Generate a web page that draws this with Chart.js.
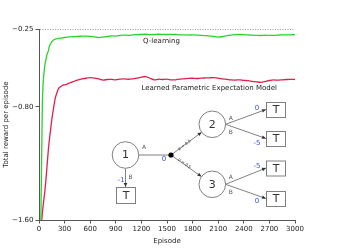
<!DOCTYPE html>
<html>
<head>
<meta charset="utf-8">
<script src="https://cdn.jsdelivr.net/npm/chart.js@4/dist/chart.umd.min.js"></script>
<style>
html,body{margin:0;padding:0;background:#fff;}
#wrap{width:351px;height:248px;}
</style>
</head>
<body>
<div id="wrap"><canvas id="c" width="351" height="248"></canvas></div>
<script>
// ---- data ----
const qEpisodes = [20,30,40,50,60,70,80,90,100,110,120,130,140,150,170,200,250,300,350,400,450,500,550,600,650,700,750,800,850,900,950,1000,1050,1100,1150,1200,1250,1300,1350,1400,1450,1500,1550,1600,1650,1700,1750,1800,1850,1900,1950,2000,2050,2100,2150,2200,2250,2300,2350,2400,2450,2500,2550,2600,2650,2700,2750,2800,2850,2900,2950,3000];
const qValues = [-1.70,-1.20,-0.76,-0.62,-0.55,-0.50,-0.47,-0.44,-0.42,-0.405,-0.375,-0.36,-0.35,-0.34,-0.328,-0.32,-0.315,-0.31,-0.306,-0.304,-0.302,-0.301,-0.300,-0.302,-0.305,-0.311,-0.307,-0.303,-0.298,-0.300,-0.296,-0.293,-0.295,-0.291,-0.290,-0.288,-0.287,-0.290,-0.289,-0.287,-0.288,-0.289,-0.288,-0.289,-0.292,-0.291,-0.293,-0.292,-0.293,-0.295,-0.297,-0.300,-0.303,-0.307,-0.303,-0.297,-0.293,-0.290,-0.288,-0.290,-0.292,-0.294,-0.295,-0.296,-0.294,-0.295,-0.295,-0.293,-0.291,-0.292,-0.291,-0.290];
const lpemEpisodes = [20,32,50,70,90,110,130,150,170,190,210,230,260,290,330,370,400,450,500,550,600,650,700,750,800,850,900,950,1000,1050,1100,1150,1200,1250,1300,1350,1400,1450,1500,1550,1600,1650,1700,1750,1800,1850,1900,1950,2000,2050,2100,2150,2200,2250,2300,2350,2400,2450,2500,2550,2600,2650,2700,2750,2800,2850,2900,2950,3000];
const lpemValues = [-1.70,-1.60,-1.49,-1.39,-1.25,-1.10,-0.99,-0.89,-0.81,-0.74,-0.70,-0.67,-0.655,-0.645,-0.640,-0.628,-0.622,-0.612,-0.603,-0.598,-0.594,-0.597,-0.603,-0.611,-0.607,-0.606,-0.609,-0.604,-0.603,-0.605,-0.602,-0.598,-0.590,-0.586,-0.598,-0.610,-0.605,-0.607,-0.604,-0.610,-0.609,-0.604,-0.602,-0.599,-0.598,-0.600,-0.597,-0.596,-0.595,-0.594,-0.597,-0.603,-0.606,-0.610,-0.611,-0.609,-0.613,-0.615,-0.620,-0.624,-0.627,-0.621,-0.614,-0.610,-0.612,-0.609,-0.607,-0.606,-0.607];
const yTickValues = [-1.60, -0.80, -0.25];
const xTickValues = [0,300,600,900,1200,1500,1800,2100,2400,2700,3000];
const seriesNames = ['Q-learning', 'Learned Parametric Expectation Model'];
const labelAnchors = [[1220, -0.335], [1200, -0.667]];

const FONT = "'DejaVu Sans'";
Chart.defaults.font.family = FONT;
Chart.defaults.font.size = 7;
Chart.defaults.color = '#222';

function fmtY(v){ return (v<0?'\u2212':'') + Math.abs(v).toFixed(2); }

const diagram = {
  id: 'diagram',
  afterDatasetsDraw(chart){
    const ctx = chart.ctx;
    const xs = chart.scales.x, ys = chart.scales.y;
    ctx.save();
    // series labels
    ctx.fillStyle = '#222';
    ctx.font = '7px ' + FONT;
    ctx.textBaseline = 'middle';
    ctx.textAlign = 'left';
    seriesNames.forEach((n,i)=>{
      ctx.fillText(n, xs.getPixelForValue(labelAnchors[i][0]), ys.getPixelForValue(labelAnchors[i][1]));
    });

    const lineCol = '#808080';
    function arrow(x1,y1,x2,y2){
      ctx.strokeStyle = lineCol; ctx.lineWidth = 1;
      ctx.beginPath(); ctx.moveTo(x1,y1); ctx.lineTo(x2,y2); ctx.stroke();
      const a = Math.atan2(y2-y1,x2-x1), L=4, W=1.8;
      ctx.fillStyle = '#333';
      ctx.beginPath();
      ctx.moveTo(x2,y2);
      ctx.lineTo(x2-L*Math.cos(a)+W*Math.sin(a), y2-L*Math.sin(a)-W*Math.cos(a));
      ctx.lineTo(x2-L*Math.cos(a)-W*Math.sin(a), y2-L*Math.sin(a)+W*Math.cos(a));
      ctx.closePath(); ctx.fill();
    }
    function circle(x,y,r,t){
      ctx.strokeStyle = lineCol; ctx.lineWidth = 1;
      ctx.fillStyle = '#fff';
      ctx.beginPath(); ctx.arc(x,y,r,0,Math.PI*2); ctx.fill(); ctx.stroke();
      ctx.fillStyle = '#333'; ctx.font = '11px ' + FONT;
      ctx.textAlign='center'; ctx.textBaseline='middle';
      ctx.fillText(t,x,y+0.5);
    }
    function box(x,y,w,h){
      ctx.strokeStyle = lineCol; ctx.lineWidth = 1;
      ctx.fillStyle = '#fff';
      ctx.fillRect(x,y,w,h); ctx.strokeRect(x+0.5,y+0.5,w,h);
      ctx.fillStyle = '#333'; ctx.font = '11px ' + FONT;
      ctx.textAlign='center'; ctx.textBaseline='middle';
      ctx.fillText('T',x+w/2+0.5,y+h/2+1);
    }
    function txt(t,x,y,col,size){
      ctx.fillStyle = col; ctx.font = size+'px ' + FONT;
      ctx.textAlign='center'; ctx.textBaseline='middle';
      ctx.fillText(t,x,y);
    }
    const blue = '#3a4df0', lab = '#555';
    // node 1
    ctx.strokeStyle = lineCol; ctx.lineWidth = 1.2;
    ctx.beginPath(); ctx.moveTo(138.5,155); ctx.lineTo(171,155); ctx.stroke();
    arrow(125.5,168.5,125.5,187);
    circle(125.5,155,13.3,'1');
    box(116,187,19,16);
    txt('A',144,147.5,lab,6);
    txt('0',164,159.5,blue,7);
    txt('B',130.5,177,lab,6);
    txt('-1',121,180.5,blue,7);
    // chance node
    const c2x=212.3,c2y=124.3,c3x=212.3,c3y=184.3,r=13.3;
    const d1=Math.hypot(c2x-171,c2y-155), d2=Math.hypot(c3x-171,c3y-155);
    arrow(171,155,c2x-r*(c2x-171)/d1,c2y-r*(c2y-155)/d1);
    arrow(171,155,c3x-r*(c3x-171)/d2,c3y-r*(c3y-155)/d2);
    ctx.fillStyle='#000';
    ctx.beginPath(); ctx.arc(171,155,2.6,0,Math.PI*2); ctx.fill();
    // p labels
    ctx.save(); ctx.translate(184.5,145); ctx.rotate(Math.atan2(c2y-155,c2x-171));
    txt('p = 0.5',0,0,'#333',4); ctx.restore();
    ctx.save(); ctx.translate(184.5,163.5); ctx.rotate(Math.atan2(c3y-155,c3x-171));
    txt('p = 0.5',0,0,'#333',4); ctx.restore();
    circle(c2x,c2y,r,'2');
    circle(c3x,c3y,r,'3');
    // terminal boxes
    const bx=266, bw=19, bh=15;
    const boxY=[102,131,160.5,191];
    arrow(c2x+r,c2y,bx,boxY[0]+bh/2);
    arrow(c2x+r,c2y,bx,boxY[1]+bh/2);
    arrow(c3x+r,c3y,bx,boxY[2]+bh/2);
    arrow(c3x+r,c3y,bx,boxY[3]+bh/2);
    boxY.forEach(y=>box(bx,y,bw,bh));
    txt('A',230.7,118.3,lab,6); txt('B',230.7,132.7,lab,6);
    txt('A',230.7,177.7,lab,6); txt('B',230.7,192.7,lab,6);
    txt('0',257,108,blue,7); txt('-5',257,143,blue,7);
    txt('-5',257,166,blue,7); txt('0',257,201.5,blue,7);
    ctx.restore();
  }
};

new Chart(document.getElementById('c'), {
  type: 'line',
  data: {
    datasets: [
      { label: seriesNames[0], data: qEpisodes.map((e,i)=>({x:e,y:qValues[i]})),
        borderColor: '#2bd42b', borderWidth: 1.3, pointRadius: 0, tension: 0.2, fill:false },
      { label: seriesNames[1], data: lpemEpisodes.map((e,i)=>({x:e,y:lpemValues[i]})),
        borderColor: '#e0204a', borderWidth: 1.3, pointRadius: 0, tension: 0.2, fill:false }
    ]
  },
  options: {
    responsive: false, animation: false, devicePixelRatio: 1,
    layout: { padding: { left: 0, top: 29, right: 56, bottom: 0 } },
    plugins: { legend: { display: false }, tooltip: { enabled: false } },
    scales: {
      x: {
        type: 'linear', min: 0, max: 3000,
        afterBuildTicks: s => { s.ticks = xTickValues.map(v=>({value:v})); },
        afterFit: s => { s.height = 28; },
        ticks: { autoSkip: false, maxRotation: 0, padding: 1, color: '#222', font: {size: 7}, callback: v => String(v) },
        grid: { drawOnChartArea: false, drawTicks: true, tickLength: 3.5, tickColor: '#555', tickWidth: 1 },
        border: { color: '#555', width: 1 },
        title: { display: true, text: 'Episode', color: '#222', font: {size: 7}, padding: {top: 0, bottom: 3} }
      },
      y: {
        type: 'linear', min: -1.6, max: -0.25,
        afterBuildTicks: s => { s.ticks = yTickValues.map(v=>({value:v})); },
        afterFit: s => { s.width = 39; },
        ticks: { autoSkip: false, padding: 2, color: '#222', font: {size: 7}, callback: v => fmtY(v) },
        grid: { drawOnChartArea: true, drawTicks: true, tickLength: 3.5,
                color: c => (c.tick && Math.abs(c.tick.value + 0.25) < 1e-6) ? '#999' : 'rgba(0,0,0,0)',
                tickColor: '#555', tickBorderDash: [], lineWidth: 1 },
        border: { color: '#555', width: 1, dash: [1,1.5] },
        title: { display: true, text: 'Total reward per episode', color: '#222', font: {size: 7}, padding: {top: 1.5, bottom: 0} }
      }
    }
  },
  plugins: [diagram]
});
</script>
</body>
</html>
